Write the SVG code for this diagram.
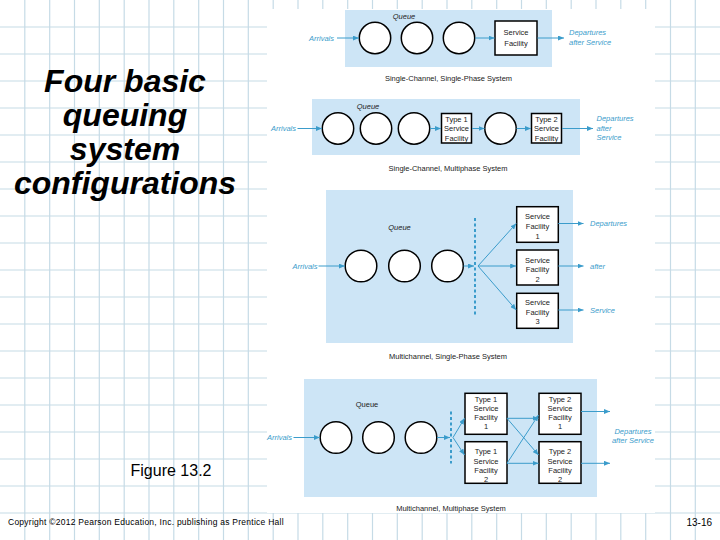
<svg xmlns="http://www.w3.org/2000/svg" width="720" height="540" viewBox="0 0 720 540">
<defs>
<style>
.grid{stroke:#c6dbe6;stroke-width:1.2;fill:none}
.panel{fill:#cde5f6}
.q{fill:#fff;stroke:#000;stroke-width:1.5}
.box{fill:#fff;stroke:#000;stroke-width:1.5}
.t{font-family:"Liberation Sans",Arial,sans-serif;font-size:7.5px;fill:#222;text-anchor:middle}
.lbl{font-family:"Liberation Sans",Arial,sans-serif;font-size:7.5px;font-style:italic;fill:#3b9ccb}
.cap{font-family:"Liberation Sans",Arial,sans-serif;font-size:7.5px;fill:#222;text-anchor:middle}
.ql{font-family:"Liberation Sans",Arial,sans-serif;font-size:7.5px;font-style:italic;fill:#222;text-anchor:middle}
.c{stroke:#3b9ccb;stroke-width:1;fill:none;marker-end:url(#ah)}
.dash{stroke:#3b9ccb;stroke-width:2;stroke-dasharray:3 2.5;fill:none}
.title{font-family:"Liberation Sans",Arial,sans-serif;font-size:32px;font-weight:bold;font-style:italic;fill:#000;text-anchor:middle}
</style>
<marker id="ah" markerUnits="userSpaceOnUse" markerWidth="6" markerHeight="5" refX="6" refY="2.5" orient="auto">
<path d="M0,0 L6,2.5 L0,5 z" fill="#3b9ccb"/>
</marker>
</defs>
<rect width="720" height="540" fill="#fff"/>
<g id="grid">
<path class="grid" d="M24.8,0V540M49.7,0V540M74.5,0V540M99.3,0V540M124.2,0V540M149,0V540M173.8,0V540M198.7,0V540M223.5,0V540M248.3,0V540M273.2,0V540M298,0V540M322.8,0V540M347.7,0V540M372.5,0V540M397.3,0V540M422.2,0V540M447,0V540M471.8,0V540M496.7,0V540M521.5,0V540M546.3,0V540M571.2,0V540M596,0V540M620.8,0V540M645.7,0V540M670.5,0V540M695.3,0V540M0,27H720M0,54H720M0,81H720M0,108H720M0,135H720M0,162H720M0,189H720M0,216H720M0,243H720M0,270H720M0,297H720M0,324H720M0,351H720M0,378H720M0,405H720M0,432H720M0,459H720M0,486H720M0,513H720"/>
</g>
<rect x="267" y="9" width="388" height="504" fill="#fff"/>
<g id="title">
<text class="title" x="125" y="92">Four basic</text>
<text class="title" x="125" y="126">queuing</text>
<text class="title" x="125" y="160">system</text>
<text class="title" x="125" y="194">configurations</text>
</g>
<text id="figure" x="171" y="476" font-family="Liberation Sans,Arial,sans-serif" font-size="16" text-anchor="middle">Figure 13.2</text>
<text id="copyright" x="8" y="525" font-family="Liberation Sans,Arial,sans-serif" font-size="8.5" letter-spacing="0.25">Copyright ©2012 Pearson Education, Inc. publishing as Prentice Hall</text>
<text id="pagenum" x="712" y="526" font-family="Liberation Sans,Arial,sans-serif" font-size="10" text-anchor="end">13-16</text>

<!-- Panel 1 -->
<g id="panel1">
<rect class="panel" x="345" y="10" width="207" height="57"/>
<text class="ql" x="404" y="19">Queue</text>
<text class="lbl" x="334" y="40.5" text-anchor="end">Arrivals</text>
<text class="lbl" x="569" y="35">Departures</text>
<text class="lbl" x="569" y="45">after Service</text>
<text class="cap" x="448.5" y="80.5">Single-Channel, Single-Phase System</text>
</g>
<g id="p1-q1"><circle class="q" cx="375" cy="38" r="15.7"/></g>
<g id="p1-q2"><circle class="q" cx="417" cy="38" r="15.7"/></g>
<g id="p1-q3"><circle class="q" cx="459" cy="38" r="15.7"/></g>
<g id="p1-sf"><rect class="box" x="495" y="21" width="42" height="34"/>
<text class="t" x="516" y="35">Service</text><text class="t" x="516" y="45.5">Facility</text></g>

<!-- Panel 2 -->
<g id="panel2">
<rect class="panel" x="312" y="99" width="268" height="56"/>
<text class="ql" x="368" y="109">Queue</text>
<text class="lbl" x="296" y="131" text-anchor="end">Arrivals</text>
<text class="lbl" x="596.5" y="121">Departures</text>
<text class="lbl" x="596.5" y="130.5">after</text>
<text class="lbl" x="596.5" y="140">Service</text>
<text class="cap" x="448" y="171">Single-Channel, Multiphase System</text>
</g>
<g id="p2-q1"><circle class="q" cx="338" cy="128.5" r="15.7"/></g>
<g id="p2-q2"><circle class="q" cx="376" cy="128.5" r="15.7"/></g>
<g id="p2-q3"><circle class="q" cx="414" cy="128.5" r="15.7"/></g>
<g id="p2-t1"><rect class="box" x="441.5" y="113.5" width="30" height="29.5"/>
<text class="t" x="456.5" y="121.5">Type 1</text><text class="t" x="456.5" y="131">Service</text><text class="t" x="456.5" y="140.5">Facility</text></g>
<g id="p2-q4"><circle class="q" cx="500.5" cy="128.5" r="15.7"/></g>
<g id="p2-t2"><rect class="box" x="531.5" y="113.5" width="30" height="29.5"/>
<text class="t" x="546.5" y="121.5">Type 2</text><text class="t" x="546.5" y="131">Service</text><text class="t" x="546.5" y="140.5">Facility</text></g>

<!-- Panel 3 -->
<g id="panel3">
<rect class="panel" x="326" y="190" width="247" height="153"/>
<text class="ql" x="399.5" y="230">Queue</text>
<text class="lbl" x="317.5" y="268.5" text-anchor="end">Arrivals</text>
<text class="lbl" x="590" y="226">Departures</text>
<text class="lbl" x="590" y="268.5">after</text>
<text class="lbl" x="590" y="312.5">Service</text>
<text class="cap" x="448" y="358.5">Multichannel, Single-Phase System</text>
</g>
<g id="p3-q1"><circle class="q" cx="361" cy="266" r="15.8"/></g>
<g id="p3-q2"><circle class="q" cx="404.5" cy="266" r="15.8"/></g>
<g id="p3-q3"><circle class="q" cx="447.5" cy="266" r="15.8"/></g>
<g id="p3-sf1"><rect class="box" x="516.7" y="206.7" width="41.6" height="35.6"/>
<text class="t" x="537.5" y="219">Service</text><text class="t" x="537.5" y="229">Facility</text><text class="t" x="537.5" y="239">1</text></g>
<g id="p3-sf2"><rect class="box" x="516.7" y="250" width="41.6" height="35"/>
<text class="t" x="537.5" y="262.5">Service</text><text class="t" x="537.5" y="272">Facility</text><text class="t" x="537.5" y="281.5">2</text></g>
<g id="p3-sf3"><rect class="box" x="516.7" y="293.3" width="41.6" height="35"/>
<text class="t" x="537.5" y="305">Service</text><text class="t" x="537.5" y="314.5">Facility</text><text class="t" x="537.5" y="324">3</text></g>

<!-- Panel 4 -->
<g id="panel4">
<rect class="panel" x="304" y="379" width="293" height="118"/>
<text class="t" x="367" y="406.5">Queue</text>
<text class="lbl" x="292" y="440" text-anchor="end">Arrivals</text>
<text class="lbl" x="633" y="434" text-anchor="middle">Departures</text>
<text class="lbl" x="633" y="443" text-anchor="middle">after Service</text>
<text class="cap" x="451" y="511">Multichannel, Multiphase System</text>
</g>
<g id="p4-q1"><circle class="q" cx="336" cy="437.5" r="15.8"/></g>
<g id="p4-q2"><circle class="q" cx="378.5" cy="437.5" r="15.8"/></g>
<g id="p4-q3"><circle class="q" cx="421" cy="437.5" r="15.8"/></g>
<g id="p4-a1"><rect class="box" x="465" y="393.3" width="42" height="41"/>
<text class="t" x="486" y="401.5">Type 1</text><text class="t" x="486" y="411">Service</text><text class="t" x="486" y="420">Facility</text><text class="t" x="486" y="429">1</text></g>
<g id="p4-a2"><rect class="box" x="465" y="441.7" width="42" height="41.6"/>
<text class="t" x="486" y="454">Type 1</text><text class="t" x="486" y="463.5">Service</text><text class="t" x="486" y="472.5">Facility</text><text class="t" x="486" y="481.5">2</text></g>
<g id="p4-b1"><rect class="box" x="539" y="393.3" width="42" height="41"/>
<text class="t" x="560" y="401.5">Type 2</text><text class="t" x="560" y="411">Service</text><text class="t" x="560" y="420">Facility</text><text class="t" x="560" y="429">1</text></g>
<g id="p4-b2"><rect class="box" x="539" y="441.7" width="42" height="41.6"/>
<text class="t" x="560" y="454">Type 2</text><text class="t" x="560" y="463.5">Service</text><text class="t" x="560" y="472.5">Facility</text><text class="t" x="560" y="481.5">2</text></g>

<g id="connectors">
<line class="c" x1="337" y1="38" x2="358.8" y2="38"/>
<line class="c" x1="475" y1="38" x2="494.5" y2="38"/>
<line class="c" x1="537.5" y1="38" x2="564" y2="38"/>

<line class="c" x1="297.5" y1="128.5" x2="322" y2="128.5"/>
<line class="c" x1="430" y1="128.5" x2="441" y2="128.5"/>
<line class="c" x1="472" y1="128.5" x2="484.5" y2="128.5"/>
<line class="c" x1="516.5" y1="128.5" x2="531" y2="128.5"/>
<line class="c" x1="562" y1="128.5" x2="593" y2="128.5"/>

<line class="c" x1="318.5" y1="266" x2="344.8" y2="266"/>
<line class="c" x1="463.5" y1="266" x2="474" y2="266"/>
<path class="dash" d="M475,218V315"/>
<line class="c" x1="478" y1="266" x2="516.2" y2="223.5"/>
<line class="c" x1="478" y1="266" x2="516.2" y2="266"/>
<line class="c" x1="478" y1="266" x2="516.2" y2="310"/>
<line class="c" x1="558.3" y1="223.5" x2="583.5" y2="223.5"/>
<line class="c" x1="558.3" y1="266" x2="583.5" y2="266"/>
<line class="c" x1="558.3" y1="310" x2="583.5" y2="310"/>

<line class="c" x1="293.5" y1="437.5" x2="319.8" y2="437.5"/>
<line class="c" x1="437" y1="437.5" x2="450" y2="437.5"/>
<path class="dash" d="M451,411.5V463.5"/>
<line class="c" x1="453" y1="437.5" x2="464.5" y2="418.3"/>
<line class="c" x1="453" y1="437.5" x2="464.5" y2="455"/>
<line class="c" x1="507" y1="418.3" x2="538.5" y2="418.3"/>
<line class="c" x1="507" y1="418.3" x2="538.5" y2="455"/>
<line class="c" x1="507" y1="463.3" x2="538.5" y2="463.3"/>
<line class="c" x1="507" y1="463.3" x2="538.5" y2="415"/>
<line class="c" x1="581" y1="411.5" x2="610" y2="411.5"/>
<line class="c" x1="581" y1="463.3" x2="610" y2="463.3"/>
</g>
</svg>
